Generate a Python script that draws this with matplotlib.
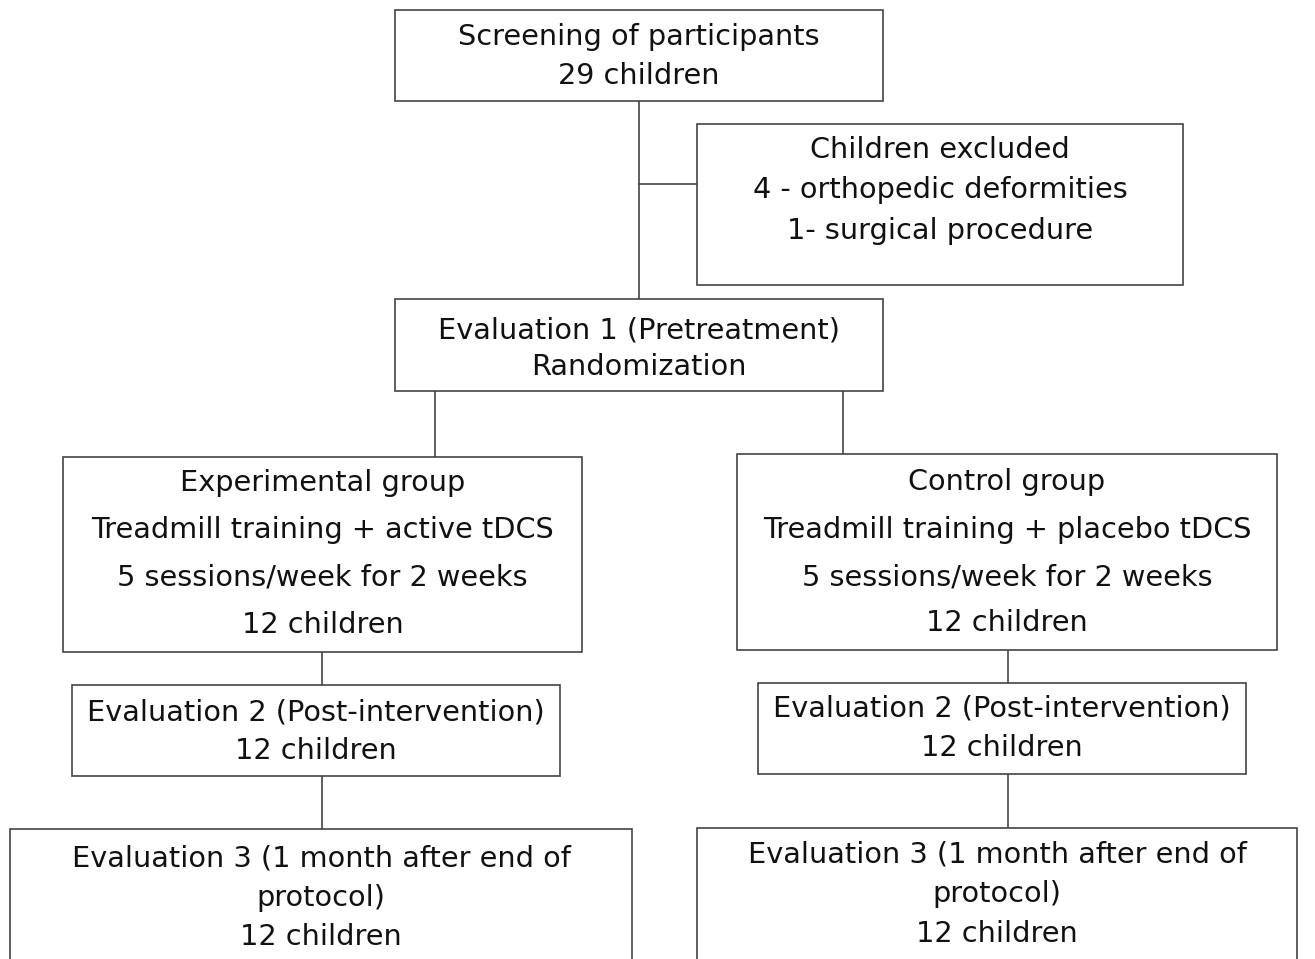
import matplotlib.pyplot as plt
from matplotlib.patches import Rectangle

plt.rcParams['font.family'] = ['DejaVu Sans']

# Box texts
screening = ["Screening of participants", "29 children"]
excluded = ["Children excluded", "4 - orthopedic deformities", "1- surgical procedure"]
evaluation1 = ["Evaluation 1 (Pretreatment)", "Randomization"]
experimental = ["Experimental group", "Treadmill training + active tDCS",
                "5 sessions/week for 2 weeks", "12 children"]
control = ["Control group", "Treadmill training + placebo tDCS",
           "5 sessions/week for 2 weeks", "12 children"]
eval2 = ["Evaluation 2 (Post-intervention)", "12 children"]
eval3 = ["Evaluation 3 (1 month after end of", "protocol)", "12 children"]

# layout in pixels: (x0, y0, x1, y1), text line y positions
boxes = [
    ((395, 10, 883, 101), screening, [36, 75]),
    ((697, 124, 1183, 285), excluded, [149, 189, 230]),
    ((395, 299, 883, 391), evaluation1, [329, 366]),
    ((63, 457, 582, 652), experimental, [482, 529, 576, 624]),
    ((737, 454, 1277, 650), control, [481, 529, 576, 622]),
    ((72, 685, 560, 776), eval2, [711, 750]),
    ((758, 683, 1246, 774), eval2, [708, 747]),
    ((10, 829, 632, 975), eval3, [857, 897, 936]),
    ((697, 828, 1297, 975), eval3, [854, 893, 933]),
]

connectors = [
    ((639, 101), (639, 299)),
    ((639, 184), (697, 184)),
    ((435, 391), (435, 457)),
    ((843, 391), (843, 454)),
    ((322, 652), (322, 685)),
    ((322, 776), (322, 829)),
    ((1008, 650), (1008, 683)),
    ((1008, 774), (1008, 828)),
]

fig = plt.figure(figsize=(13.15, 9.59), dpi=100)
ax = fig.add_axes([0, 0, 1, 1])
ax.set_xlim(0, 1315)
ax.set_ylim(959, 0)
ax.axis('off')

line_color = '#444444'

for (a, b) in connectors:
    ax.plot([a[0], b[0]], [a[1], b[1]], color=line_color, lw=1.2)

for (x0, y0, x1, y1), lines, ys in boxes:
    ax.add_patch(Rectangle((x0, y0), x1 - x0, y1 - y0, facecolor='white',
                           edgecolor=line_color, lw=1.2, zorder=2))
    cx = (x0 + x1) / 2
    for txt, y in zip(lines, ys):
        ax.text(cx, y + 1, txt, ha='center', va='center', fontsize=20.7,
                color='#111111', zorder=3)

fig.savefig('out.png', dpi=100)
